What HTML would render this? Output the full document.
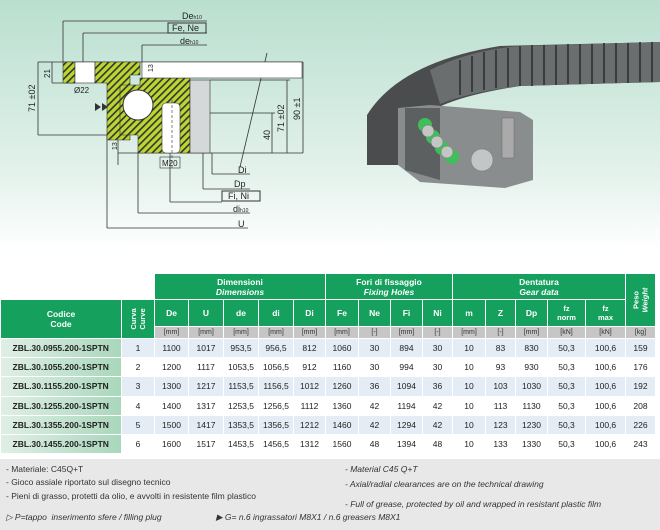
<!DOCTYPE html>
<html><head><meta charset="utf-8"><style>
*{margin:0;padding:0;box-sizing:border-box}
body{width:660px;height:530px;overflow:hidden;background:#fff;font-family:"Liberation Sans",sans-serif;position:relative}
.top{position:absolute;left:0;top:0;width:660px;height:250px;background:linear-gradient(#b9dfcf,#e4f2ec 70%,#fff)}
table{position:absolute;left:0;top:273px;border-collapse:collapse;font-family:"Liberation Sans",sans-serif;font-size:8.5px;color:#222;table-layout:fixed}
td{text-align:center;padding:0;white-space:nowrap}
.g{background:#16a05e;color:#fff;border:1px solid #fff;font-weight:bold}
.gi{font-style:italic}
.u{background:#c6c6c6;color:#333;font-size:7px;height:12px;border:1px solid #fff}
.r td{height:19.2px;border-right:1px solid #fff;border-bottom:1px solid #fff}
.r:nth-child(even) td{background:#e4edf5}
.r td.c{background:linear-gradient(90deg,#e0efe6,#a9d7bb);font-weight:bold;font-size:8.5px}
.notes{position:absolute;left:0;top:459px;width:660px;height:71px;background:#e8e8e8;font-size:8.5px;color:#333}
.notes div{position:absolute;white-space:nowrap}
</style></head><body>
<div class="top"></div>
<svg width="660" height="250" style="position:absolute;left:0;top:0" font-family="Liberation Sans,sans-serif">
<defs><pattern id="h" width="5" height="5" patternUnits="userSpaceOnUse" patternTransform="rotate(45)"><rect width="5" height="5" fill="#bcd631"/><rect width="1.6" height="5" fill="#333"/></pattern></defs>
<g stroke="#333" stroke-width="0.8" fill="none">
<path d="M63 21H207M83 33H207M142 45H207M63 21V62M83 33V62M142 45V62"/>
<path d="M38 62H303M118 153H303M38 62V135M38 135H120M52 62V83M52 83H75"/>
<path d="M303 62V153M287 80V153M272 113V153M210 80H290M180 113H275"/>
<path d="M212 174H250M212 153V174M203 189H250M203 80V189M170 202H222M170 153V202M138 213H250M138 153V213M107 228H248M107 135V228M118 140V165"/>
<path d="M267 53L240 167"/>
</g>
<polygon points="63,62 75,62 75,83 63,83" fill="url(#h)" stroke="#333" stroke-width=".6"/>
<rect x="75" y="62" width="20" height="21" fill="#fff" stroke="#333" stroke-width=".6"/>
<polygon points="95,62 140,62 140,75 130,75 130,140 107,140 107,83 95,83" fill="url(#h)" stroke="#333" stroke-width=".6"/>
<polygon points="140,78 190,78 190,153 138,153 138,135 120,135 120,85 140,85" fill="url(#h)" stroke="#333" stroke-width=".6"/>
<rect x="142" y="62" width="160" height="16" fill="#fff" stroke="#333" stroke-width=".6"/>
<rect x="190" y="80" width="20" height="73" fill="#d4d8d8" stroke="#333" stroke-width=".6"/>
<circle cx="138" cy="105" r="15" fill="#fff" stroke="#333"/>
<rect x="162" y="103" width="18" height="50" rx="4" fill="#fff" stroke="#333" stroke-width=".6"/>
<path d="M172 100V170" stroke="#333" stroke-dasharray="3 2" stroke-width=".6"/>
<rect x="168" y="23" width="38" height="10" fill="none" stroke="#333"/>
<rect x="222" y="191" width="38" height="10" fill="none" stroke="#333"/>
<rect x="160" y="157" width="20" height="11" fill="none" stroke="#333" stroke-width=".6"/>
<g font-size="9" fill="#222">
<text x="182" y="19">De<tspan font-size="5">h10</tspan></text>
<text x="172" y="31">Fe, Ne</text>
<text x="180" y="44">de<tspan font-size="5">h10</tspan></text>
<text x="74" y="93" font-size="8">Ø22</text>
<text x="162" y="166" font-size="8">M20</text>
<text x="238" y="173">Di</text>
<text x="234" y="187">Dp</text>
<text x="228" y="199">Fi, Ni</text>
<text x="233" y="212">di<tspan font-size="5">h10</tspan></text>
<text x="238" y="227">U</text>
<text transform="translate(35,112) rotate(-90)">71 ±02</text>
<text transform="translate(50,78) rotate(-90)" font-size="8">21</text>
<text transform="translate(153,72) rotate(-90)" font-size="7">13</text>
<text transform="translate(117,150) rotate(-90)" font-size="7">13</text>
<text transform="translate(300,120) rotate(-90)">90 ±1</text>
<text transform="translate(284,132) rotate(-90)">71 ±02</text>
<text transform="translate(270,140) rotate(-90)">40</text>
</g>
<path d="M95 103l6 4-6 4zM102 103l6 4-6 4" fill="#333"/>
<path d="M367 165V115Q400 62 500 46L660 42V82L520 86Q455 96 430 112L398 120V165Z" fill="#4a4c4d"/>
<path d="M430 70Q470 50 520 46L660 42V82L520 86Q470 92 440 104Z" fill="#6b6e6f"/>
<g stroke="#3a3c3d" stroke-width="2">
<path d="M460 60V95M472 56V92M484 52V90M496 50V88M508 48V87M520 46V86M532 45V86M544 45V85M556 45V85M568 44V84M580 44V84M592 44V84M604 43V83M616 43V83M628 43V83M640 42V82M652 42V82"/>
</g>
<polygon points="398,108 430,105 520,112 533,120 533,180 505,188 420,182 398,165" fill="#8a8d8e"/>
<polygon points="405,108 440,108 440,180 405,170" fill="#5d6061"/>
<g fill="#3fbf5a"><circle cx="425" cy="125" r="7"/><circle cx="433" cy="137" r="7"/><circle cx="442" cy="148" r="7"/><circle cx="452" cy="157" r="7"/></g>
<g fill="#c4c6c6" stroke="#777" stroke-width=".5"><circle cx="428" cy="131" r="6"/><circle cx="437" cy="142" r="6"/><circle cx="447" cy="152" r="6"/><circle cx="482" cy="160" r="11"/></g>
<rect x="502" y="118" width="12" height="40" fill="#aaa" stroke="#666" stroke-width=".5"/>
</svg>
<table>
<colgroup><col style="width:121px"><col style="width:33px"><col style="width:34px"><col style="width:35px"><col style="width:35px"><col style="width:35px"><col style="width:32px"><col style="width:33px"><col style="width:32px"><col style="width:32px"><col style="width:30px"><col style="width:33px"><col style="width:30px"><col style="width:32px"><col style="width:38px"><col style="width:40px"><col style="width:30px"></colgroup>
<tr style="height:26px"><td colspan="2" style="background:#fff"></td><td class="g" colspan="5">Dimensioni<br><span class="gi">Dimensions</span></td><td class="g" colspan="4">Fori di fissaggio<br><span class="gi">Fixing Holes</span></td><td class="g" colspan="5">Dentatura<br><span class="gi">Gear data</span></td><td class="g" rowspan="2"><div style="transform:rotate(-90deg);font-size:7.5px">Peso<br><i>Weight</i></div></td></tr>
<tr style="height:27px"><td class="g" rowspan="2">Codice<br>Code</td><td class="g" rowspan="2"><div style="transform:rotate(-90deg);font-size:7.5px">Curva<br>Curve</div></td>
<td class="g">De</td><td class="g">U</td><td class="g">de</td><td class="g">di</td><td class="g">Di</td><td class="g">Fe</td><td class="g">Ne</td><td class="g">Fi</td><td class="g">Ni</td><td class="g">m</td><td class="g">Z</td><td class="g">Dp</td><td class="g" style="font-size:7.5px">fz<br>norm</td><td class="g" style="font-size:7.5px">fz<br>max</td></tr>
<tr><td class="u">[mm]</td><td class="u">[mm]</td><td class="u">[mm]</td><td class="u">[mm]</td><td class="u">[mm]</td><td class="u">[mm]</td><td class="u">[-]</td><td class="u">[mm]</td><td class="u">[-]</td><td class="u">[mm]</td><td class="u">[-]</td><td class="u">[mm]</td><td class="u">[kN]</td><td class="u">[kN]</td><td class="u">[kg]</td></tr>
<tr class="r"><td class="c">ZBL.30.0955.200-1SPTN</td><td>1</td><td>1100</td><td>1017</td><td>953,5</td><td>956,5</td><td>812</td><td>1060</td><td>30</td><td>894</td><td>30</td><td>10</td><td>83</td><td>830</td><td>50,3</td><td>100,6</td><td>159</td></tr>
<tr class="r"><td class="c">ZBL.30.1055.200-1SPTN</td><td>2</td><td>1200</td><td>1117</td><td>1053,5</td><td>1056,5</td><td>912</td><td>1160</td><td>30</td><td>994</td><td>30</td><td>10</td><td>93</td><td>930</td><td>50,3</td><td>100,6</td><td>176</td></tr>
<tr class="r"><td class="c">ZBL.30.1155.200-1SPTN</td><td>3</td><td>1300</td><td>1217</td><td>1153,5</td><td>1156,5</td><td>1012</td><td>1260</td><td>36</td><td>1094</td><td>36</td><td>10</td><td>103</td><td>1030</td><td>50,3</td><td>100,6</td><td>192</td></tr>
<tr class="r"><td class="c">ZBL.30.1255.200-1SPTN</td><td>4</td><td>1400</td><td>1317</td><td>1253,5</td><td>1256,5</td><td>1112</td><td>1360</td><td>42</td><td>1194</td><td>42</td><td>10</td><td>113</td><td>1130</td><td>50,3</td><td>100,6</td><td>208</td></tr>
<tr class="r"><td class="c">ZBL.30.1355.200-1SPTN</td><td>5</td><td>1500</td><td>1417</td><td>1353,5</td><td>1356,5</td><td>1212</td><td>1460</td><td>42</td><td>1294</td><td>42</td><td>10</td><td>123</td><td>1230</td><td>50,3</td><td>100,6</td><td>226</td></tr>
<tr class="r"><td class="c">ZBL.30.1455.200-1SPTN</td><td>6</td><td>1600</td><td>1517</td><td>1453,5</td><td>1456,5</td><td>1312</td><td>1560</td><td>48</td><td>1394</td><td>48</td><td>10</td><td>133</td><td>1330</td><td>50,3</td><td>100,6</td><td>243</td></tr>
</table>
<div class="notes">
<div style="left:6px;top:5px">- Materiale: C45Q+T</div>
<div style="left:6px;top:18px">- Gioco assiale riportato sul disegno tecnico</div>
<div style="left:6px;top:32px">- Pieni di grasso, protetti da olio, e avvolti in resistente film plastico</div>
<div style="left:6px;top:53px;font-style:italic">▷ P=tappo&nbsp; inserimento sfere / filling plug</div>
<div style="left:216px;top:53px;font-style:italic">▶ G= n.6 ingrassatori M8X1 / n.6 greasers M8X1</div>
<div style="left:345px;top:5px;font-style:italic">- Material C45 Q+T</div>
<div style="left:345px;top:20px;font-style:italic">- Axial/radial clearances are on the technical drawing</div>
<div style="left:345px;top:40px;font-style:italic">- Full of grease, protected by oil and wrapped in resistant plastic film</div>
</div>
</body></html>
